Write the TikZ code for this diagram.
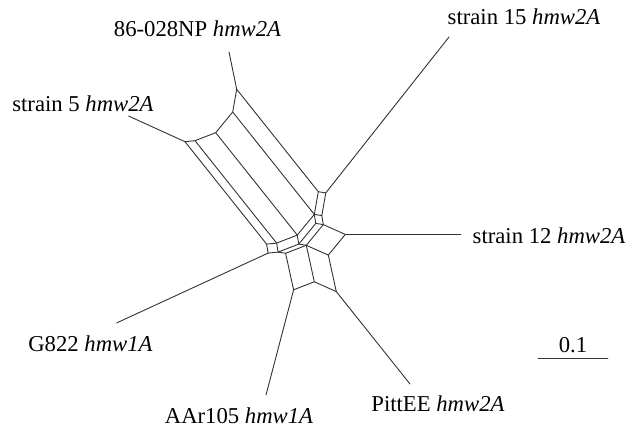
\documentclass[tikz,border=0pt]{standalone}
\usepackage{fontspec}
\setmainfont{Liberation Serif}
\begin{document}
\begin{tikzpicture}[x=1pt,y=-1pt,
  edge/.style={draw=black!80,line width=0.9pt,line join=round,line cap=round},
  lab/.style={font=\fontsize{22.7}{26}\selectfont,inner sep=0pt,text=black}]
\useasboundingbox (0,0) rectangle (631,435);
% network vertices
\coordinate (V1) at (236.7,89.3);
\coordinate (V2) at (232.7,112.0);
\coordinate (V3) at (215.7,132.7);
\coordinate (V4) at (195.0,140.7);
\coordinate (V5) at (185.0,141.7);
\coordinate (W1) at (318.3,191.7);
\coordinate (X2) at (314.3,214.4);
\coordinate (Y3) at (297.3,235.1);
\coordinate (Y4) at (276.6,243.1);
\coordinate (Y5) at (266.6,244.1);
\coordinate (W2) at (325.8,192.9);
\coordinate (X3) at (321.8,215.6);
\coordinate (X2p) at (315.8,223.4);
\coordinate (P) at (323.3,224.6);
\coordinate (Y3p) at (298.8,244.1);
\coordinate (Q2) at (306.3,245.3);
\coordinate (Y4p) at (278.1,252.1);
\coordinate (Q1) at (285.6,253.3);
\coordinate (Y5p) at (268.1,253.1);
\coordinate (R) at (328.3,255.1);
\coordinate (Z) at (345.3,234.4);
\coordinate (E) at (293.6,289.8);
\coordinate (M) at (314.3,281.8);
\coordinate (D) at (336.3,291.6);
% leaf ends
\coordinate (La) at (229,52);
\coordinate (Lb) at (449,37);
\coordinate (Lc) at (461,234.4);
\coordinate (Ld) at (410,384);
\coordinate (Le) at (266,395);
\coordinate (Lf) at (116.5,323);
\coordinate (Lg) at (128.5,116);
% long band
\draw[edge] (V1)--(W1) (V2)--(X2) (V3)--(Y3) (V4)--(Y4) (V5)--(Y5);
\draw[edge] (V1)--(V2)--(V3)--(V4)--(V5);
\draw[edge] (W1)--(X2)--(Y3)--(Y4)--(Y5);
% t band
\draw[edge] (W1)--(W2) (X2)--(X3) (X2p)--(P) (Y3p)--(Q2) (Y4p)--(Q1);
\draw[edge] (W2)--(X3);
% u band
\draw[edge] (Y5)--(Y5p) (Y4)--(Y4p) (Y3)--(Y3p) (X2)--(X2p) (X3)--(P);
\draw[edge] (Y5p)--(Y4p)--(Y3p)--(X2p);
\draw[edge] (Q1)--(Q2)--(P);
% lower boxes
\draw[edge] (P)--(Z) (Q2)--(R) (M)--(D);
\draw[edge] (R)--(Z);
\draw[edge] (Q1)--(E) (Q2)--(M) (R)--(D);
\draw[edge] (E)--(M);
% pendant edges
\draw[edge] (V1)--(La);
\draw[edge] (W2)--(Lb);
\draw[edge] (Z)--(Lc);
\draw[edge] (D)--(Ld);
\draw[edge] (E)--(Le);
\draw[edge] (Y5p)--(Lf);
\draw[edge] (V5)--(Lg);
% labels
\node[lab] (ta) at (197.5,29) {86-028NP \textit{hmw2A}};
\node[lab] (tb) at (524,17) {strain 15 \textit{hmw2A}};
\node[lab] (tc) at (549,236) {strain 12 \textit{hmw2A}};
\node[lab] (td) at (438,404) {PittEE \textit{hmw2A}};
\node[lab] (te) at (239,416) {AAr105 \textit{hmw1A}};
\node[lab] (tf) at (90.5,344) {G822 \textit{hmw1A}};
\node[lab] (tg) at (83,104) {strain 5 \textit{hmw2A}};
% scale bar
\coordinate (S1) at (538,358);
\coordinate (S2) at (608,358);
\draw[edge] (S1)--(S2);
\node[lab] (ts) at (573,345) {0.1};
\end{tikzpicture}
\end{document}
